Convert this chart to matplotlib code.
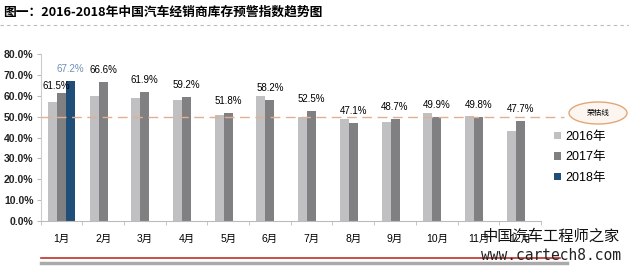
import matplotlib
matplotlib.use('Agg')
import matplotlib.pyplot as plt
from matplotlib.patches import Ellipse
import numpy as np

plt.rcParams['font.family'] = ['Liberation Sans', 'Noto Sans CJK SC', 'DejaVu Sans']

# data
months = ['1月', '2月', '3月', '4月', '5月', '6月', '7月', '8月', '9月', '10月', '11月', '12月']
v2016 = [56.9, 59.7, 58.7, 57.9, 51.0, 59.7, 49.6, 48.9, 47.5, 51.5, 50.1, 43.0]
v2017 = [61.5, 66.6, 61.9, 59.2, 51.8, 58.2, 52.5, 47.1, 48.7, 49.9, 49.8, 47.7]
v2018 = [67.2]
series_names = ['2016年', '2017年', '2018年']
threshold = 50.0
yticks = [0, 10, 20, 30, 40, 50, 60, 70, 80]

c16 = '#c0bfc1'
c17 = '#807f81'
c18 = '#1f4e79'

fig = plt.figure(figsize=(6.29, 2.71), dpi=100)
ax = fig.add_axes([40.5 / 629, 50 / 271, 500.5 / 629, 167 / 271])

x = np.arange(len(months))
w = 0.215
ax.bar(x - w, v2016, w, color=c16, label=series_names[0])
ax.bar(x, v2017, w, color=c17, label=series_names[1])
ax.bar(x[:len(v2018)] + w, v2018, w, color=c18, label=series_names[2])

# value labels (2017 and 2018)
for i, v in enumerate(v2017):
    dx, dy = (0, 5)
    if i == 0:
        dx, dy = (-3.5, 1)
    ax.annotate(f'{v:.1f}%', (x[i], v), xytext=(dx, dy), textcoords='offset points',
                ha='center', va='bottom', fontsize=7, color='black')
for i, v in enumerate(v2018):
    ax.annotate(f'{v:.1f}%', (x[i] + w, v), xytext=(0, 5), textcoords='offset points',
                ha='center', va='bottom', fontsize=7, color='#6f8fb4')

ax.set_xlim(-0.5, len(months) - 0.5)
ax.set_ylim(0, 80)
ax.set_yticks(yticks)
ax.set_yticklabels([f'{t:.1f}%' for t in yticks], fontsize=7.5, fontweight='bold', color='#222222')
ax.set_xticks(x)
ax.set_xticklabels(months, fontsize=7.5)
ax.set_xticks(np.arange(-0.5, len(months), 1), minor=True)
ax.tick_params(axis='x', which='major', length=0, pad=9)
ax.tick_params(axis='x', which='minor', length=3, color='#bbbbbb', direction='out')
ax.tick_params(axis='y', length=3, color='#bbbbbb', pad=2)
for s in ['top', 'right']:
    ax.spines[s].set_visible(False)
ax.spines['left'].set_color('#cccccc')
ax.spines['bottom'].set_color('#bbbbbb')

# 50% line, extends past the axes to the label
ax.plot([-0.5, 12.05], [threshold, threshold], ls=(0, (7, 4)), lw=1, color='#e4ae90',
        clip_on=False, zorder=3)
ax.add_patch(Ellipse((598 / 629, 158 / 271), 58 / 629, 22 / 271, transform=fig.transFigure,
                     facecolor='#fdf6f0', edgecolor='#e0a878', lw=1, clip_on=False))
fig.text(598 / 629, 158 / 271, '荣枯线', fontsize=5.5, ha='center', va='center')

# legend
leg = fig.legend(loc='upper left', bbox_to_anchor=(548 / 629, 146 / 271), frameon=False,
                 fontsize=9, handlelength=0.5, handleheight=0.5, handletextpad=0.35,
                 labelspacing=0.65, borderpad=0)

# title and decorations
fig.text(3 / 629, 259 / 271, '图一：2016-2018年中国汽车经销商库存预警指数趋势图',
         fontsize=9.2, fontweight='heavy', va='center', ha='left', family=['Noto Sans CJK SC'])
fig.add_artist(plt.Line2D([0, 1], [246 / 271, 246 / 271], transform=fig.transFigure,
                          color='#bbbbbb', lw=0.8, ls=(0, (3, 3))))
fig.add_artist(plt.Line2D([41 / 629, 560 / 629], [13 / 271, 13 / 271], transform=fig.transFigure,
                          color='#c0302a', lw=1.2))
fig.add_artist(plt.Line2D([41 / 629, 567 / 629], [8 / 271, 8 / 271], transform=fig.transFigure,
                          color='#aaaaaa', lw=2.5))

# watermark
fig.text(551 / 629, 35 / 271, '中国汽车工程师之家', fontsize=11, ha='center', va='center',
         family=['Noto Sans CJK SC'], color='#111111')
fig.text(551 / 629, 15 / 271, 'www.cartech8.com', fontsize=10.5, ha='center', va='center',
         family=['DejaVu Sans Mono'], color='#222222')

fig.savefig('out.png', dpi=100)
